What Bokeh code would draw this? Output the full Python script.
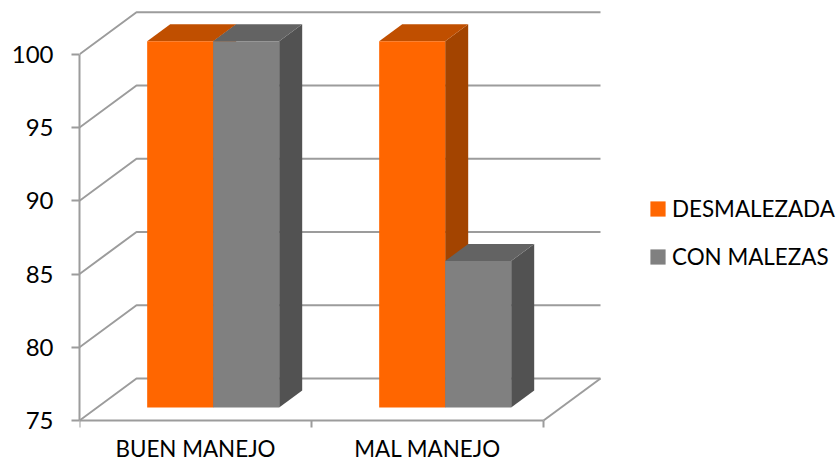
from bokeh.embed import file_html
from bokeh.models import FixedTicker, Legend, LegendItem, LinearAxis, Range1d
from bokeh.plotting import figure
from bokeh.resources import INLINE

# Chart values
categories = ["BUEN MANEJO", "MAL MANEJO"]
desmalezada = [100, 100]
con_malezas = [100, 85]
y_ticks = [75, 80, 85, 90, 95, 100]

# Series styling: name, values, front, top and side face colours
series = [
    ("DESMALEZADA", desmalezada, "#FF6600", "#C04F00", "#A34400"),
    ("CON MALEZAS", con_malezas, "#808080", "#636363", "#525252"),
]

GRID = "#9C9C9C"
FONT = "Lato"
FONT_SIZE = "22.4px"

# Oblique projection: one unit of depth moves a point right and up
UNITS_PER_PX_Y = 1 / 14.65
PX_PER_CAT = 232
DEPTH_X = 57 / PX_PER_CAT
DEPTH_Y = 42 * UNITS_PER_PX_Y
BAR_NEAR, BAR_FAR = 0.31, 0.714
GAP = 50 / PX_PER_CAT
BAR_W = 66 / PX_PER_CAT
BASE = y_ticks[0]


def project(x, y, depth):
    return x + depth * DEPTH_X, y + depth * DEPTH_Y


p = figure(
    width=837, height=462, output_backend="svg", toolbar_location=None,
    x_range=Range1d(0, (837 - 79) / PX_PER_CAT),
    y_range=Range1d(BASE - 42 * UNITS_PER_PX_Y, BASE + 420 * UNITS_PER_PX_Y),
    x_axis_type=None, y_axis_type=None,
    min_border_left=79, min_border_right=0, min_border_top=0, min_border_bottom=0,
    outline_line_color=None, background_fill_color="white", border_fill_color="white",
)
p.grid.visible = False

# Walls and floor of the plot box
n_cat = len(categories)
for tick in y_ticks:
    xs = [0, project(0, tick, 1)[0], project(n_cat, tick, 1)[0]]
    ys = [tick, project(0, tick, 1)[1], project(n_cat, tick, 1)[1]]
    p.line(xs, ys, line_color=GRID, line_width=2)
floor = [project(n_cat, BASE, 0), project(n_cat, BASE, 1)]
p.line([c[0] for c in floor], [c[1] for c in floor], line_color=GRID, line_width=2)

# Bars, drawn left to right so that nearer faces overlap correctly
legend_renderers = {}
for c in range(n_cat):
    for s, (name, values, front, top, side) in enumerate(series):
        v = values[c]
        x0 = c + GAP + s * BAR_W
        x1 = x0 + BAR_W
        a = project(x0, BASE, BAR_NEAR)
        b = project(x1, BASE, BAR_NEAR)
        ct = project(x1, v, BAR_NEAR)
        dt = project(x0, v, BAR_NEAR)
        et = project(x1, v, BAR_FAR)
        ft = project(x0, v, BAR_FAR)
        eb = project(x1, BASE, BAR_FAR)
        p.patch([b[0], eb[0], et[0], ct[0]], [b[1], eb[1], et[1], ct[1]],
                fill_color=side, line_color=None)
        p.patch([dt[0], ct[0], et[0], ft[0]], [dt[1], ct[1], et[1], ft[1]],
                fill_color=top, line_color=None)
        r = p.quad(left=a[0], right=b[0], bottom=a[1], top=dt[1],
                   fill_color=front, line_color=None)
        legend_renderers.setdefault(name, r)

# Value axis
y_axis = LinearAxis(
    ticker=FixedTicker(ticks=y_ticks), bounds=(BASE, y_ticks[-1]),
    axis_line_color=GRID, axis_line_width=2,
    major_tick_line_color=GRID, major_tick_line_width=2,
    major_tick_in=0, major_tick_out=8, minor_tick_line_color=None,
    major_label_standoff=18, major_label_text_font=FONT,
    major_label_text_font_size="24px", major_label_text_color="black",
)
p.add_layout(y_axis, "left")

# Category axis pinned at the base value: separators on the minor ticks,
# names on the major ones
x_axis = LinearAxis(
    ticker=FixedTicker(ticks=[i + 0.5 for i in range(n_cat)],
                       minor_ticks=list(range(n_cat + 1))),
    bounds=(0, n_cat), fixed_location=BASE,
    major_label_overrides={i + 0.5: name for i, name in enumerate(categories)},
    axis_line_color=GRID, axis_line_width=2,
    major_tick_line_color=None,
    minor_tick_line_color=GRID, minor_tick_line_width=2,
    minor_tick_in=0, minor_tick_out=7,
    major_label_standoff=7, major_label_text_font=FONT,
    major_label_text_font_size=FONT_SIZE, major_label_text_color="black",
)
p.add_layout(x_axis, "below")

# Legend swatches are inset 10% on each side, so 19px glyphs give 15px squares
legend = Legend(
    items=[LegendItem(label=name, renderers=[r]) for name, r in legend_renderers.items()],
    location=(569, 192), orientation="vertical",
    background_fill_alpha=0, border_line_color=None,
    padding=0, margin=0, spacing=21, glyph_width=19, glyph_height=19, label_standoff=5,
    label_text_font=FONT, label_text_font_size=FONT_SIZE, label_text_color="black",
    label_height=15,
)
p.add_layout(legend, "center")

open("out.html", "w").write(file_html(p, INLINE))
